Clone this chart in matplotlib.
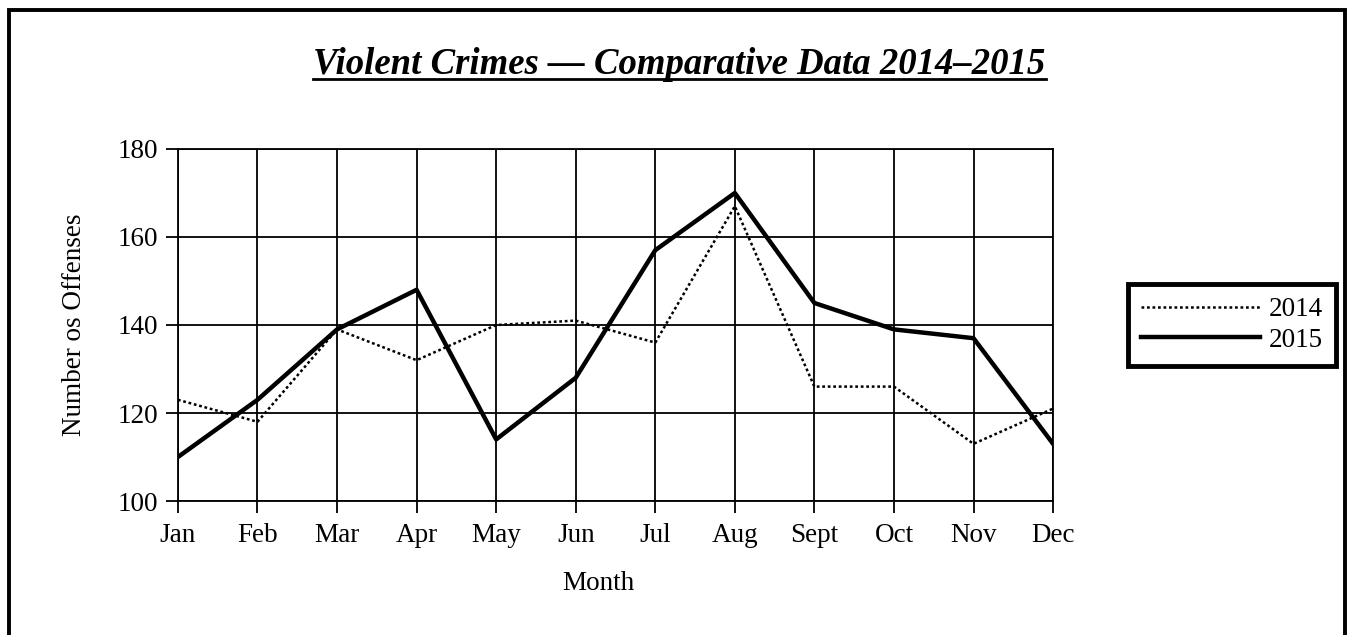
import matplotlib
matplotlib.use("Agg")
from matplotlib import pyplot as plt
from matplotlib.lines import Line2D
from matplotlib.patches import Rectangle

months = ["Jan", "Feb", "Mar", "Apr", "May", "Jun", "Jul", "Aug", "Sept", "Oct", "Nov", "Dec"]
crimes_2014 = [123, 118, 139, 132, 140, 141, 136, 167, 126, 126, 113, 121]
crimes_2015 = [110, 123, 139, 148, 114, 128, 157, 170, 145, 139, 137, 113]
y_ticks = [100, 120, 140, 160, 180]

plt.rcParams["font.family"] = ["Liberation Serif", "DejaVu Serif"]

fig = plt.figure(figsize=(13.48, 6.35), dpi=100)
ax = fig.add_axes([0.1320, 0.211, 0.6492, 0.5544])

x = list(range(len(months)))
ax.plot(x, crimes_2014, color="black", linewidth=1.8, linestyle=(0, (1.1, 1.1)), label="2014", zorder=3)
ax.plot(x, crimes_2015, color="black", linewidth=3.2, label="2015", zorder=4)

ax.set_xlim(0, len(months) - 1)
ax.set_ylim(100, 180)
ax.set_xticks(x)
ax.set_xticklabels(months)
ax.set_yticks(y_ticks)
ax.grid(True, color="black", linewidth=1.3)
ax.set_axisbelow(True)
for spine in ax.spines.values():
    spine.set_linewidth(1.3)
ax.tick_params(axis="both", labelsize=19.5, width=1.3, length=8.5, direction="out")
ax.tick_params(axis="y", pad=6)
ax.tick_params(axis="x", pad=7)

ax.set_xlabel("Month", fontsize=19.5, labelpad=17)
ax.xaxis.label.set_x(0.48)
ax.set_ylabel("Number os Offenses", fontsize=19.5, labelpad=22)

# title with underline
title = fig.text(0.504, 0.884, "Violent Crimes \u2014 Comparative Data 2014\u20132015",
                 ha="center", va="baseline", fontsize=26.5, fontweight="bold", fontstyle="italic")
fig.canvas.draw()
bb = title.get_window_extent().transformed(fig.transFigure.inverted())
fig.add_artist(Line2D([bb.x0, bb.x1], [1 - 78.5 / 635] * 2, transform=fig.transFigure,
                      color="black", linewidth=2.0))

legend = fig.legend(loc="center left", bbox_to_anchor=(1114 / 1348, 1 - 325 / 635),
                    fontsize=19.5, handlelength=4.4, handletextpad=0.3, fancybox=False,
                    edgecolor="black", framealpha=1, borderpad=0.5, labelspacing=0.2)
legend.get_frame().set_linewidth(3.5)

# outer frame, open at the bottom edge
fig.add_artist(Rectangle((8.5 / 1348, -0.1), (1345 - 8.5) / 1348, 1.1 - 9.5 / 635,
                         transform=fig.transFigure, fill=False, edgecolor="black", linewidth=2.8))

fig.savefig("out.png", dpi=100, facecolor="white")
